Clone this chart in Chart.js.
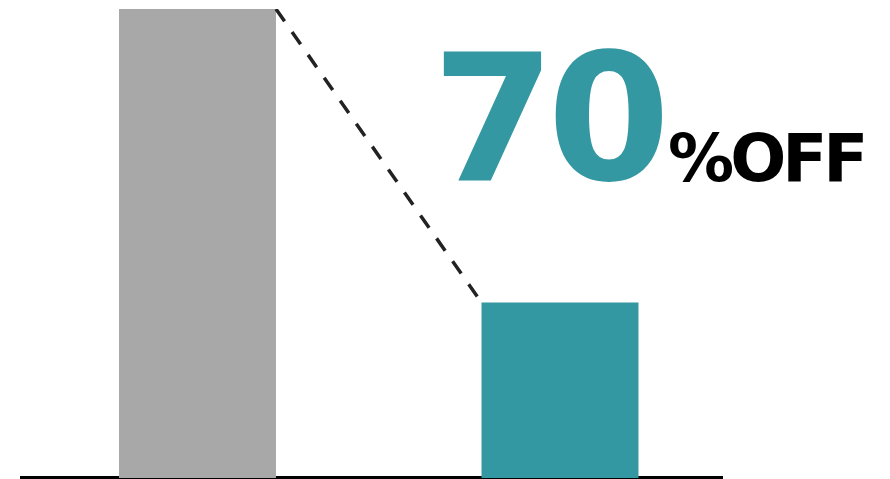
<!DOCTYPE html>
<html>
<head>
<meta charset="utf-8">
<script src="https://cdn.jsdelivr.net/npm/chart.js@4.4.1/dist/chart.umd.min.js"></script>
<style>
  html, body { margin: 0; padding: 0; background: #fff; }
  #wrap { width: 890px; height: 479px; }
</style>
</head>
<body>
<div id="wrap"><canvas id="sale-chart"></canvas></div>
<script>
// data
var categories = ['Before', 'After'];
var positions = [0, 1];
var prices = [100, 37.4];
var discountLabel = '70';
var suffixLabel = '%OFF';

var barWidth = 0.433; // in x units
var xMin = -0.4841, xMax = 1.4469;
var grey = '#a8a8a8';
var teal = '#3398a2';

// dashed line from top-right of first bar to top-left of second
var dropLine = [
  { x: positions[0] + barWidth / 2, y: prices[0] },
  { x: positions[1] - barWidth / 2, y: prices[1] }
];

var bigText = {
  id: 'bigText',
  afterDraw: function(chart) {
    var ctx = chart.ctx;
    ctx.save();
    ctx.textBaseline = 'alphabetic';
    ctx.textAlign = 'left';
    ctx.fillStyle = teal;
    ctx.font = 'bold 177px "DejaVu Sans"';
    ctx.letterSpacing = '-8px';
    ctx.fillText(discountLabel, 432, 180);
    ctx.fillStyle = '#000';
    ctx.font = 'bold 66px "DejaVu Sans"';
    ctx.letterSpacing = '-4px';
    ctx.fillText(suffixLabel, 668, 181);
    ctx.restore();
  }
};

new Chart(document.getElementById('sale-chart'), {
  type: 'bar',
  data: {
    datasets: [{
      type: 'line',
      data: dropLine,
      borderColor: '#222',
      borderWidth: 3.5,
      borderDash: [15, 13],
      pointRadius: 0,
      fill: false,
      order: 0
    }, {
      type: 'bar',
      label: categories.join(' / '),
      data: positions.map(function(p, i) { return { x: p, y: prices[i] }; }),
      backgroundColor: [grey, teal],
      categoryPercentage: 1,
      barPercentage: barWidth,
      order: 1
    }]
  },
  options: {
    responsive: true,
    maintainAspectRatio: false,
    animation: false,
    layout: {
      padding: { top: 9, left: 22, right: 168, bottom: -7 }
    },
    plugins: {
      legend: { display: false },
      tooltip: { enabled: false }
    },
    scales: {
      x: {
        type: 'linear',
        offset: false,
        z: 1,
        min: xMin,
        max: xMax,
        afterBuildTicks: function(axis) {
          axis.ticks = positions.map(function(v) { return { value: v }; });
        },
        ticks: { display: false },
        grid: { display: false },
        border: { display: true, color: '#000', width: 4 }
      },
      y: {
        display: false,
        min: 0,
        max: 100
      }
    }
  },
  plugins: [bigText]
});
</script>
</body>
</html>
